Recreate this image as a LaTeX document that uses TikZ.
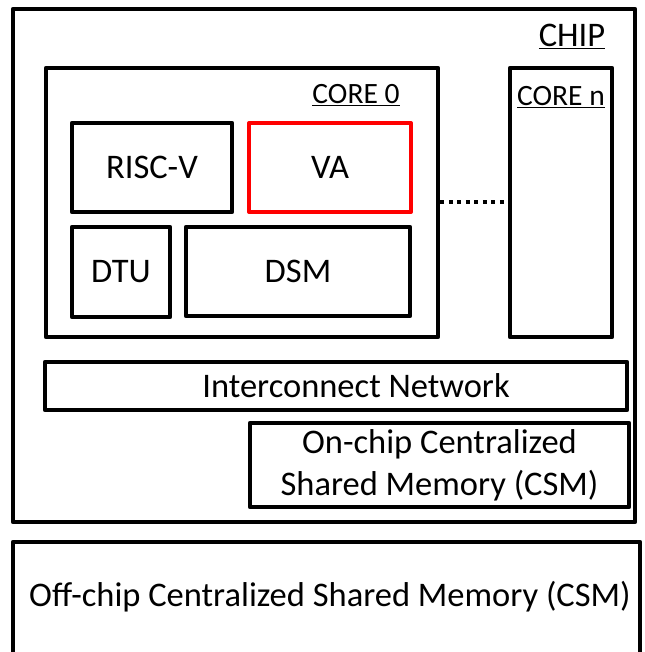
\documentclass[tikz,border=0pt]{standalone}
\usepackage{fontspec}
\setmainfont{Carlito}
\begin{document}
\begin{tikzpicture}[x=1pt,y=-1pt,
  box/.style={draw=black,line width=4.5pt,line join=round,rectangle,inner sep=0pt,anchor=center,font=\fontsize{34.5}{42}\selectfont},
  redbox/.style={box,draw=red,line width=4pt},
  lbl/.style={inner sep=0pt,anchor=center,font=\fontsize{34.5}{42}\selectfont},
  small/.style={inner sep=0pt,anchor=center,font=\fontsize{29.5}{34}\selectfont},
  dotline/.style={line width=4pt,dash pattern=on 4pt off 4.5pt}]
\useasboundingbox (0,0) rectangle (644,652);
\clip (0,0) rectangle (644,652);
\node[box,minimum width=622pt,minimum height=513pt] (chip) at (324,265.5) {};
\node[box,minimum width=627pt,minimum height=138pt] (offchip) at (326.5,611) {};
\node[lbl] (offlbl) at (330,597) {Off-chip Centralized Shared Memory (CSM)};
\node[box,minimum width=392pt,minimum height=269pt] (core0) at (242,202.5) {};
\node[box,minimum width=102pt,minimum height=269pt] (coren) at (561,202.5) {};
\node[box,minimum width=160pt,minimum height=89pt] (riscv) at (152,167.5) {RISC-V};
\node[redbox,minimum width=162pt,minimum height=89pt] (va) at (330,167.5) {VA};
\node[box,minimum width=98pt,minimum height=90pt] (dtu) at (121,272) {DTU};
\node[box,minimum width=224pt,minimum height=89pt] (dsm) at (298,271.5) {DSM};
\node[box,minimum width=582pt,minimum height=48pt] (ic) at (336,386) {};
\node[lbl] (iclbl) at (356,386) {Interconnect Network};
\node[box,minimum width=379pt,minimum height=84pt,align=center] (csm) at (439.5,465) {On-chip Centralized\\Shared Memory (CSM)};
\node[lbl] (chiplbl) at (572,36) {\underline{CHIP}};
\node[small] (core0lbl) at (356,95) {\underline{CORE 0}};
\node[small] (corenlbl) at (561,97) {\underline{CORE n}};
\draw[dotline] (core0.east) -- (coren.west);
\end{tikzpicture}
\end{document}
